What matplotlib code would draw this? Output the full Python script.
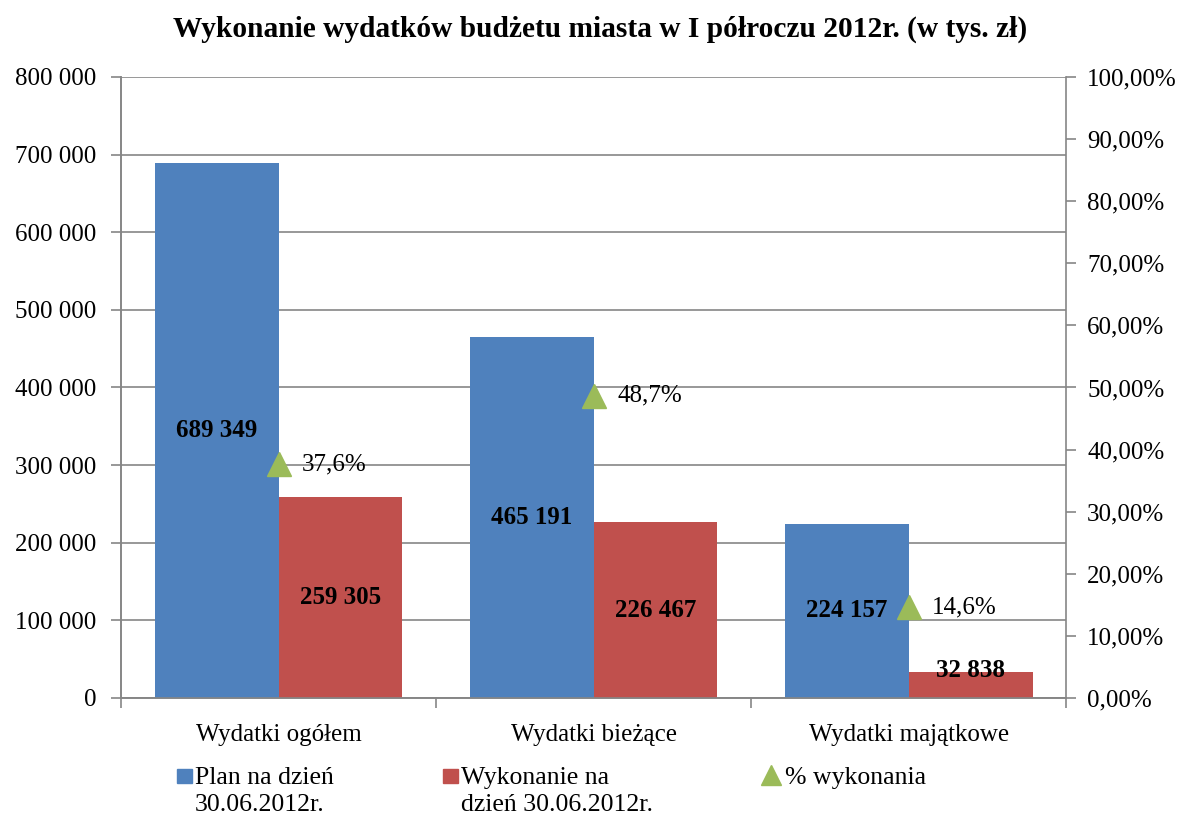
import matplotlib.pyplot as plt
import numpy as np
from matplotlib.ticker import FuncFormatter, FixedLocator
from matplotlib.patches import Rectangle

plt.rcParams['font.family'] = ['Liberation Serif', 'DejaVu Serif']

categories = ['Wydatki ogółem', 'Wydatki bieżące', 'Wydatki majątkowe']
plan = [689349, 465191, 224157]
wykonanie = [259305, 226467, 32838]
procent = [37.6, 48.7, 14.6]
series_names = ['Plan na dzień\n30.06.2012r.', 'Wykonanie na\ndzień 30.06.2012r.', '% wykonania']

blue = '#4F81BD'
red = '#C0504D'
green = '#9BBB59'
gray = '#868686'

fig = plt.figure(figsize=(11.9, 8.19), dpi=100)
ax = fig.add_axes([0.1017, 0.1478, 0.7943, 0.7582])
ax2 = ax.twinx()

x = np.arange(len(categories))
w = 0.393
ax.bar(x - w / 2, plan, w, color=blue, zorder=3)
ax.bar(x + w / 2, wykonanie, w, color=red, zorder=3)

def fmt_num(v):
    return f'{v:,.0f}'.replace(',', ' ')

for xi, v in zip(x - w / 2, plan):
    ax.text(xi, v / 2, fmt_num(v), ha='center', va='center', fontsize=18, fontweight='bold', zorder=5)
for xi, v in zip(x + w / 2, wykonanie):
    ax.text(xi, max(v / 2, 35000), fmt_num(v), ha='center', va='center', fontsize=18, fontweight='bold', zorder=5)

ax.set_xlim(-0.5, 2.5)
ax.set_ylim(0, 800000)
ax.set_yticks(np.arange(0, 800001, 100000))
ax.yaxis.set_major_formatter(FuncFormatter(lambda v, p: fmt_num(v)))
ax.grid(axis='y', color=gray, linewidth=1.2, zorder=0)
ax.set_axisbelow(True)

ax.set_xticks(x)
ax.set_xticklabels(categories, fontsize=18)
ax.xaxis.set_minor_locator(FixedLocator([-0.5, 0.5, 1.5, 2.5]))
ax.tick_params(axis='x', which='major', length=0, pad=19)
ax.tick_params(axis='x', which='minor', length=7, color=gray, width=1.2, direction='out')
ax.tick_params(axis='y', labelsize=18, length=7, color=gray, width=1.2, pad=11)

ax2.set_ylim(0, 100)
ax2.set_yticks(np.arange(0, 101, 10))
ax2.yaxis.set_major_formatter(FuncFormatter(lambda v, p: f'{v:.2f}%'.replace('.', ',')))
ax2.tick_params(axis='y', labelsize=18, length=7, color=gray, width=1.2, pad=8)
ax2.plot(x, procent, linestyle='none', marker='^', markersize=17, color=green, zorder=6)
for xi, p in zip(x, procent):
    ax2.annotate(f'{p:.1f}%'.replace('.', ','), (xi, p), xytext=(17, 0), textcoords='offset points',
                 ha='left', va='center', fontsize=18)

for a in (ax, ax2):
    for s in a.spines.values():
        s.set_color(gray)
        s.set_linewidth(1.2)
    a.spines['top'].set_visible(False)
ax.spines['right'].set_visible(False)

fig.text(0.504, 1 - 29 / 819, 'Wykonanie wydatków budżetu miasta w I półroczu 2012r. (w tys. zł)',
         ha='center', va='center', fontsize=21.2, fontweight='bold')

# legend drawn by hand so the keys line up with the first line of text
lg = fig.add_axes([0, 0, 1, 1], zorder=-1)
lg.set_xlim(0, 1190)
lg.set_ylim(819, 0)
lg.axis('off')
key_x = [177, 443, 771]
lg.add_patch(Rectangle((key_x[0], 769), 15, 14, color=blue))
lg.add_patch(Rectangle((key_x[1], 769), 15, 14, color=red))
lg.plot([key_x[2]], [775], linestyle='none', marker='^', markersize=15, color=green)
for kx, name in zip(key_x, series_names):
    tx = kx + 18 if kx != key_x[2] else kx + 14
    lg.text(tx, 767, name, ha='left', va='top', fontsize=18.5, linespacing=1.3)

fig.savefig('out.png', dpi=100)
